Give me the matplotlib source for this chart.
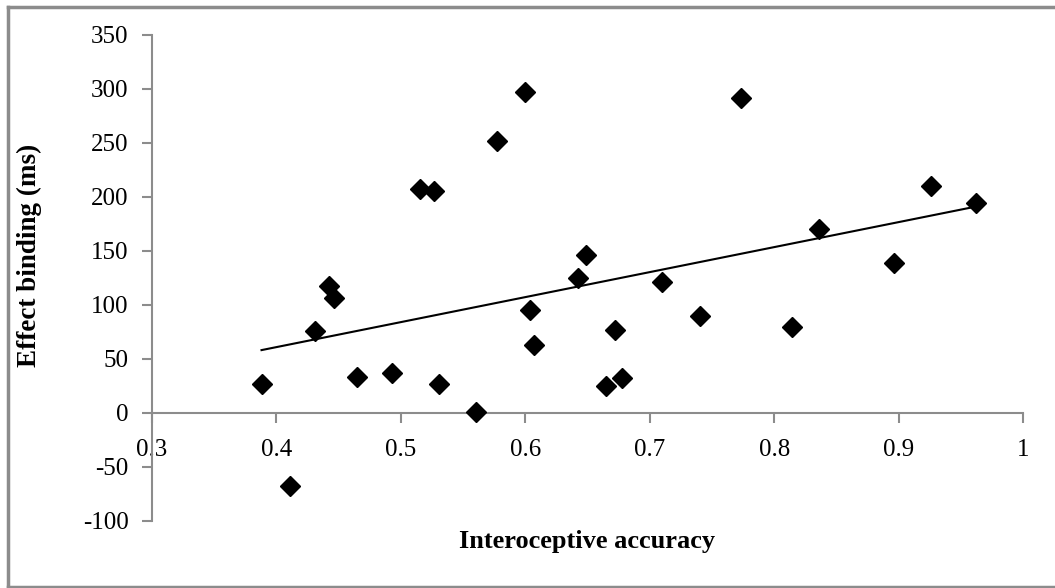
import matplotlib.pyplot as plt
import numpy as np
from matplotlib.lines import Line2D

# interoceptive accuracy vs effect binding (ms)
accuracy = [0.388, 0.411, 0.431, 0.442, 0.446, 0.465, 0.493, 0.515, 0.527, 0.531,
            0.560, 0.577, 0.600, 0.604, 0.607, 0.642, 0.649, 0.665, 0.672, 0.678,
            0.710, 0.740, 0.773, 0.814, 0.836, 0.896, 0.926, 0.962]
binding = [27, -68, 76, 117, 106, 33, 37, 207, 205, 27,
           1, 252, 297, 95, 63, 125, 146, 25, 77, 32,
           121, 90, 292, 79, 170, 139, 210, 194]

xticks = [0.3, 0.4, 0.5, 0.6, 0.7, 0.8, 0.9, 1]
xtick_labels = ['0.3', '0.4', '0.5', '0.6', '0.7', '0.8', '0.9', '1']
yticks = [-100, -50, 0, 50, 100, 150, 200, 250, 300, 350]

plt.rcParams['font.family'] = ['Liberation Serif', 'DejaVu Serif']
plt.rcParams['axes.unicode_minus'] = False

fig = plt.figure(figsize=(10.55, 5.88), dpi=100)
ax = fig.add_axes([0.1441, 0.1146, 0.8256, 0.8259])

ax.plot(accuracy, binding, 'D', color='black', markersize=10.5, zorder=3)

# linear trend line over data range
slope, icpt = np.polyfit(accuracy, binding, 1)
xs = np.array([min(accuracy), max(accuracy)])
ax.plot(xs, slope * xs + icpt, color='black', linewidth=1.5, zorder=2)

ax.set_xlim(0.3, 1)
ax.set_ylim(-100, 350)
ax.set_xticks(xticks)
ax.set_xticklabels(xtick_labels)
ax.set_yticks(yticks)

gray = '#8c8c8c'
ax.spines['top'].set_visible(False)
ax.spines['right'].set_visible(False)
ax.spines['bottom'].set_position(('data', 0))
for s in ['left', 'bottom']:
    ax.spines[s].set_color(gray)
    ax.spines[s].set_linewidth(1.5)
ax.tick_params(axis='both', direction='out', length=7, width=1.5, color=gray,
               labelsize=18, labelcolor='black')
ax.tick_params(axis='x', pad=12)
ax.tick_params(axis='y', pad=10)

fig.text(0.556, 0.079, 'Interoceptive accuracy', ha='center', va='center',
         fontsize=19, fontweight='bold')
fig.text(0.028, 0.566, 'Effect binding (ms)', ha='center', va='center',
         rotation=90, fontsize=19.5, fontweight='bold')

# outer chart border
for xy in [([0.0075, 0.0075], [0.0, 0.988]), ([0.0075, 1.0], [0.988, 0.988]),
           ([0.0075, 1.0], [0.002, 0.002])]:
    fig.add_artist(Line2D(xy[0], xy[1], color=gray, linewidth=2.5,
                          transform=fig.transFigure))

fig.savefig('out.png', dpi=100)
